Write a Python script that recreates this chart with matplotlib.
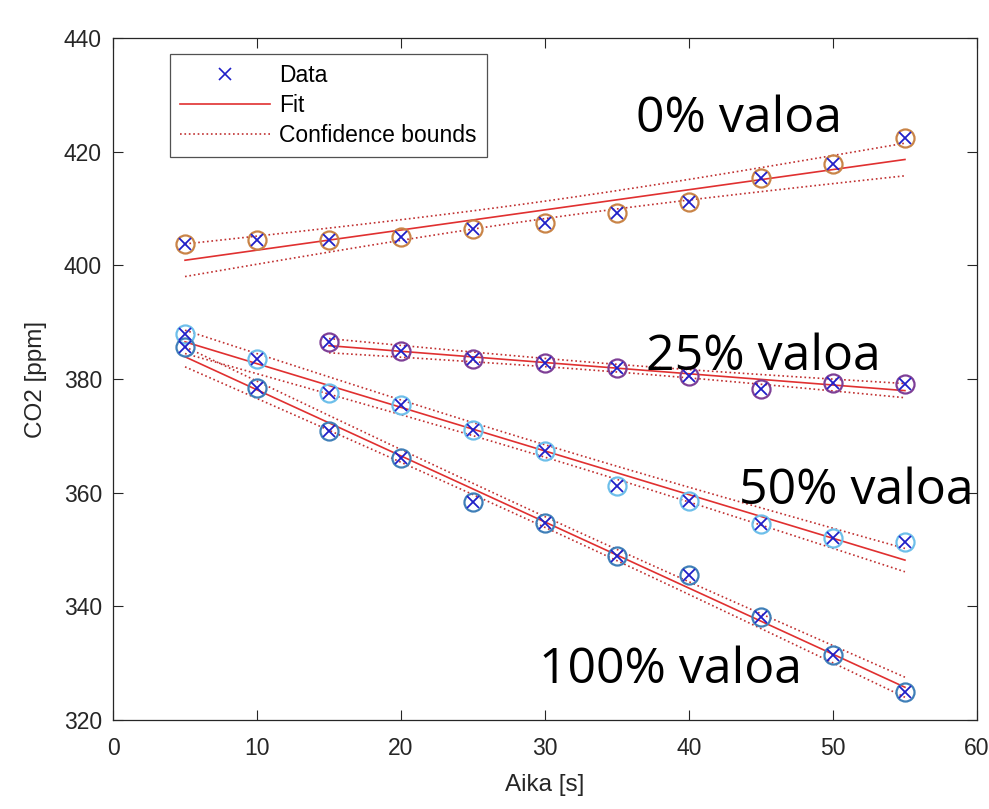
import numpy as np
import matplotlib
matplotlib.use("Agg")
import matplotlib.pyplot as plt
from matplotlib.lines import Line2D

# mittausdata (luettu kuvasta)
aika = [5, 10, 15, 20, 25, 30, 35, 40, 45, 50, 55]
aika_25 = [15, 20, 25, 30, 35, 40, 45, 50, 55]

co2_0 = [403.7, 404.4, 404.5, 405.0, 406.4, 407.4, 409.2, 411.2, 415.4, 417.8, 422.4]
co2_25 = [386.6, 384.9, 383.6, 382.8, 382.0, 380.5, 378.3, 379.3, 379.2]
co2_50 = [388.0, 383.6, 377.6, 375.4, 371.1, 367.4, 361.1, 358.6, 354.5, 352.1, 351.3]
co2_100 = [385.6, 378.5, 370.8, 366.1, 358.4, 354.7, 348.9, 345.6, 338.1, 331.5, 325.0]

sarjat = [
    (aika, co2_0, "#C98447"),
    (aika_25, co2_25, "#7E3F96"),
    (aika, co2_50, "#6DBFEA"),
    (aika, co2_100, "#3F7FB8"),
]
t_arvot = {9: 2.262, 7: 2.365}

plt.rcParams['font.family'] = ['Liberation Sans', 'DejaVu Sans']
fig = plt.figure(figsize=(9.89, 8.09), dpi=100)
ax = fig.add_axes([0.1143, 0.110, 0.8735, 0.843])

for x, y, vari in sarjat:
    x = np.array(x, float)
    y = np.array(y, float)
    n = len(x)
    k, b = np.polyfit(x, y, 1)
    yhat = k * x + b
    s = np.sqrt(np.sum((y - yhat) ** 2) / (n - 2))
    sxx = np.sum((x - x.mean()) ** 2)
    xs = np.linspace(x.min(), x.max(), 100)
    fit = k * xs + b
    # sovitteen luottamusvali
    d = t_arvot[n - 2] * s * np.sqrt(1 / n + (xs - x.mean()) ** 2 / sxx)
    ax.plot(x, y, 'o', mfc='none', mec=vari, ms=13, mew=1.6, zorder=3)
    ax.plot(x, y, 'x', color='#2020C8', ms=9, mew=1.3, zorder=4)
    ax.plot(xs, fit, '-', color='#E03030', lw=1.2, zorder=2)
    ax.plot(xs, fit + d, ':', color='#C03030', lw=1.2, zorder=2)
    ax.plot(xs, fit - d, ':', color='#C03030', lw=1.2, zorder=2)

ax.set_xlim(0, 60)
ax.set_ylim(320, 440)
ax.set_xticks(range(0, 61, 10))
ax.set_yticks(range(320, 441, 20))
ax.tick_params(direction='in', top=True, right=True, length=7, labelsize=16.5,
               colors='#262626', pad=8)
ax.tick_params(axis='x', pad=12)
for sp in ax.spines.values():
    sp.set_color('#262626')
    sp.set_linewidth(0.9)
ax.set_xlabel('Aika [s]', fontsize=17.5, color='#262626', labelpad=10)
ax.set_ylabel('CO2 [ppm]', fontsize=17.5, color='#262626', labelpad=12)

kasit = [
    Line2D([], [], ls='none', marker='x', color='#2020C8', ms=8, mew=1.2),
    Line2D([], [], ls='-', color='#E03030', lw=1.2),
    Line2D([], [], ls=':', color='#C03030', lw=1.2),
]
leg = ax.legend(kasit, ['Data', 'Fit', 'Confidence bounds'], loc='upper left',
                bbox_to_anchor=(0.066, 0.977), fontsize=16.5, frameon=True,
                fancybox=False, edgecolor='#262626', handlelength=3.9,
                labelspacing=0.3, borderpad=0.45, handletextpad=0.4,
                borderaxespad=0.0)
leg.get_frame().set_linewidth(0.9)

teksti = dict(fontsize=36, family=['Open Sans', 'DejaVu Sans'], color='black')
ax.text(36.3, 423.5, '0% valoa', **teksti)
ax.text(37.0, 381.5, '25% valoa', **teksti)
ax.text(43.5, 358.0, '50% valoa', **teksti)
ax.text(29.6, 326.5, '100% valoa', **teksti)

fig.savefig('out.png', dpi=100)
